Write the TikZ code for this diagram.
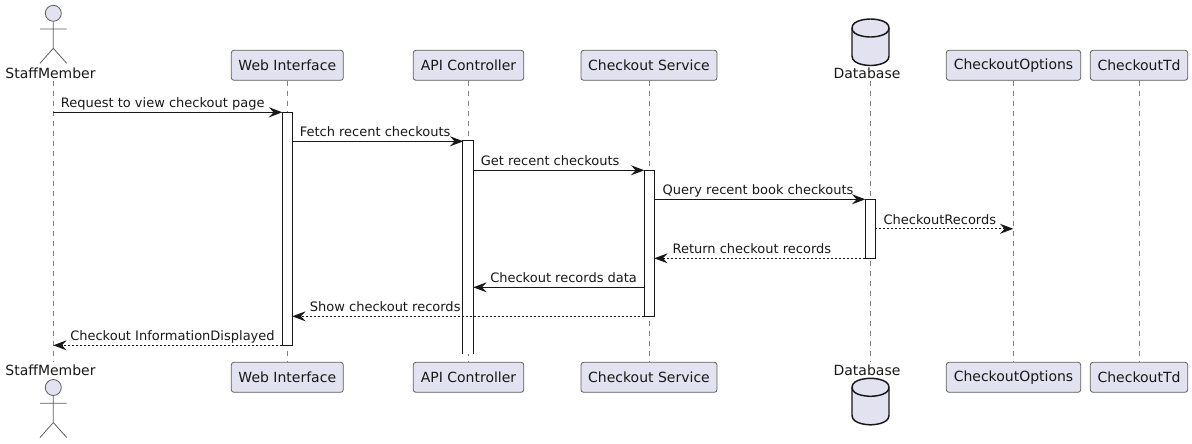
\documentclass[tikz,border=0pt]{standalone}
\usepackage{fontspec}
\setmainfont{DejaVu Sans}
\usetikzlibrary{arrows.meta,positioning,calc}
\definecolor{partfill}{HTML}{E2E2F0}
\definecolor{partline}{HTML}{181818}

\begin{document}
\begin{tikzpicture}[x=0.75pt,y=-0.75pt,
  head/.style={draw=partline!70,fill=partfill,line width=0.6pt,rounded corners=2pt,minimum height=22.5pt,inner sep=0pt,font=\fontsize{10.5}{12}\selectfont,text=partline},
  who/.style={inner sep=0pt,minimum height=11.25pt,font=\fontsize{10.5}{12}\selectfont,text=partline},
  life/.style={partline!55,line width=0.6pt,dash pattern=on 3.75pt off 3.75pt},
  bar/.style={draw=partline,fill=white,line width=0.75pt,minimum width=7.5pt,inner sep=0pt},
  msg/.style={partline,line width=0.75pt,-{Stealth[length=10pt,width=7.5pt,inset=3.5pt]}},
  ret/.style={msg,dash pattern=on 1.5pt off 1.5pt},
  lab/.style={anchor=base west,inner sep=0pt,font=\fontsize{9.75}{12}\selectfont,text=partline}]
\useasboundingbox (0,0) rectangle (1192,443);
% lifelines first, boxes sit on top of them
\coordinate (staffT) at (53.3,80.5);
\coordinate (staffB) at (53.3,362.3);
\coordinate (dbT) at (870.3,80.5);
\coordinate (dbB) at (870.3,362.3);
\foreach \n/\x/\w/\t in {web/287.3/112/Web Interface,api/468.5/110.5/API Controller,svc/649/136/Checkout Service,opt/1013.5/134.4/CheckoutOptions,td/1139/97.4/CheckoutTd} {
  \node[head,minimum width=\w*0.75pt] (\n T) at (\x,65.3) {\t};
  \node[head,minimum width=\w*0.75pt] (\n B) at (\x,377.3) {\t};
  \draw[life] (\n T.south) -- (\n B.north);
}
\draw[life] (staffT) -- (staffB);
\draw[life] (dbT) -- (dbB);
% actor and database, top and bottom
\node[who] (staffLT) at (50.5,73) {StaffMember};
\node[who] (staffLB) at (50.5,370) {StaffMember};
\node[who] (dbLT) at (867,73) {Database};
\node[who] (dbLB) at (867,370) {Database};
\foreach \d in {0,374.2} {
  \draw[partline!70,line width=0.6pt,fill=partfill] (53.3,13.3+\d) circle [radius=8];
  \draw[partline!70,line width=0.6pt] (53.3,21.3+\d) -- (53.3,48.3+\d) (40,29+\d) -- (66.7,29+\d) (40,63.3+\d) -- (53.3,48.3+\d) -- (66.7,63.3+\d);
}
\foreach \d in {0,359.3} {
  \draw[partline,line width=1.1pt,fill=partfill] (852,28+\d) .. controls (852,19+\d) and (870.5,19+\d) .. (870.5,19+\d) .. controls (870.5,19+\d) and (889,19+\d) .. (889,28+\d) -- (889,56+\d) .. controls (889,65.5+\d) and (870.5,65.5+\d) .. (870.5,65.5+\d) .. controls (870.5,65.5+\d) and (852,65.5+\d) .. (852,56+\d) -- cycle;
  \draw[partline,line width=1.1pt] (852,28+\d) .. controls (852,37+\d) and (870.5,37+\d) .. (870.5,37+\d) .. controls (870.5,37+\d) and (889,37+\d) .. (889,28+\d);
}
% activation bars
\node[bar,minimum height=174.75pt] (webBar) at (287.3,228.8) {};
\node[bar,draw=none,minimum height=159.75pt] (apiBar) at (468.3,247.3) {};
\draw[partline,line width=0.75pt] (apiBar.south west) -- (apiBar.north west) -- (apiBar.north east) -- (apiBar.south east);
\node[bar,minimum height=109.5pt] (svcBar) at (649.3,243) {};
\node[bar,minimum height=44.25pt] (dbBar) at (870.3,228.5) {};
% messages
\foreach \i/\a/\b/\y/\s in {1/53.3/282.3/112.3/msg,2/292.3/463.3/141.3/msg,3/473.3/644.3/170.3/msg,4/654.3/865.3/199.3/msg,5/875.3/1013.3/228.8/ret,6/865.3/654.3/258.3/ret,7/644.3/473.3/287.3/msg,8/644.3/292.3/316.3/ret,9/282.3/53.3/345.3/ret} {
  \coordinate (m\i a) at (\a,\y);
  \coordinate (m\i b) at (\b,\y);
  \draw[\s] (m\i a) -- (m\i b);
}
\foreach \i/\x/\y/\t in {1/60.6/107.3/Request to view checkout page,2/299.5/136.3/Fetch recent checkouts,3/480.5/165.3/Get recent checkouts,4/662.3/194.3/Query recent book checkouts,5/883.3/224/CheckoutRecords,6/672.3/253.3/Return checkout records,7/490/282.3/Checkout records data,8/309.7/311.3/Show checkout records,9/70/340.3/Checkout InformationDisplayed}
  \node[lab] (t\i) at (\x,\y) {\t};
\end{tikzpicture}
\end{document}
